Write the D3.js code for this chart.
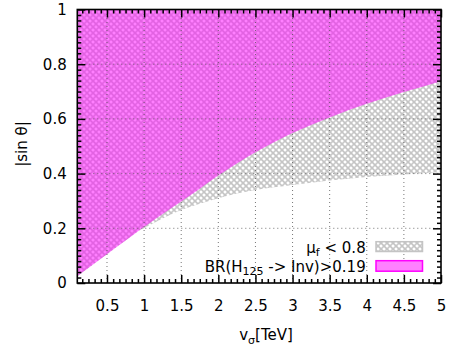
<!DOCTYPE html>
<html><head><meta charset="utf-8">
<script src="https://cdn.jsdelivr.net/npm/d3@7"></script>
<style>
body{margin:0;background:#fff}
svg text{font-family:"DejaVu Sans",sans-serif;fill:#000}
</style>
</head><body>
<svg id="c" width="457" height="347"></svg>
<script>
// ---- data ----
const upperX = [0.1, 0.25, 0.5, 0.75, 0.9, 1.0, 1.25, 1.5, 1.75, 2.0, 2.25, 2.5, 2.75, 3.0, 3.5, 4.0, 4.5, 5.0];
const upperY = [0.025, 0.055, 0.105, 0.155, 0.186, 0.205, 0.252, 0.298, 0.345, 0.393, 0.437, 0.478, 0.515, 0.548, 0.605, 0.655, 0.698, 0.738];
const lowerX = [0.9, 1.0, 1.25, 1.5, 1.75, 2.0, 2.25, 2.5, 3.0, 3.5, 4.0, 4.5, 5.0];
const lowerY = [0.186, 0.2, 0.236, 0.267, 0.29, 0.31, 0.327, 0.34, 0.358, 0.375, 0.388, 0.397, 0.405];
const xTickValues = [0.5, 1, 1.5, 2, 2.5, 3, 3.5, 4, 4.5, 5];
const yTickValues = [0, 0.2, 0.4, 0.6, 0.8, 1];
const xMinorPerMajor = 6;
const yMinorPerMajor = 10;

const svg = d3.select("#c");
const x = d3.scaleLinear().domain([0.1, 5]).range([77.3, 441]);
const y = d3.scaleLinear().domain([0, 1]).range([283, 9.5]);
const [x0, x1] = x.range(), [y0, y1] = y.range();

const defs = svg.append("defs");
defs.append("clipPath").attr("id", "clip").append("rect")
  .attr("x", x0).attr("y", y1).attr("width", x1 - x0).attr("height", y0 - y1);
const pat = defs.append("pattern").attr("id", "hatch")
  .attr("patternUnits", "userSpaceOnUse").attr("width", 4.243).attr("height", 4.243)
  .attr("patternTransform", "rotate(45)");
pat.append("rect").attr("width", 4.243).attr("height", 4.243).attr("fill", "#fff");
pat.append("path").attr("d", "M0,0H4.243M0,4.243H4.243M0,0V4.243M4.243,0V4.243")
  .attr("stroke", "#c4c4c4").attr("stroke-width", 1.5).attr("fill", "none");

const upper = upperX.map((v, i) => [v, upperY[i]]);
const lower = upperX.filter(v => v < lowerX[0]).map((v) => [v, upperY[upperX.indexOf(v)]])
  .concat(lowerX.map((v, i) => [v, lowerY[i]]));

const g = svg.append("g").attr("clip-path", "url(#clip)");
const area = d3.area().x(d => x(d[0])).y0(d => y(d[1])).y1(y(1)).curve(d3.curveMonotoneX);
g.append("path").datum(lower).attr("d", area).attr("fill", "url(#hatch)");
g.append("path").datum(upper).attr("d", area).attr("fill", "#ff00ff").attr("fill-opacity", 0.5);

// grid
const grid = svg.append("g").attr("stroke", "#555").attr("stroke-width", 1)
  .attr("stroke-dasharray", "1,3").attr("opacity", 0.8);
xTickValues.filter(v => v < 5).forEach(v => grid.append("line")
  .attr("x1", x(v)).attr("x2", x(v)).attr("y1", y0).attr("y2", y1));
yTickValues.filter(v => v > 0 && v < 1).forEach(v => grid.append("line")
  .attr("x1", x0).attr("x2", x1).attr("y1", y(v)).attr("y2", y(v)));

// minor ticks
function minors(majors, n, dom) {
  const step = majors[1] - majors[0];
  const out = [];
  const start = majors[0] - step;
  for (let k = 0; k <= majors.length; k++) {
    const b = start + k * step;
    for (let j = 1; j < n; j++) {
      const v = b + j * step / n;
      if (v > dom[0] + 1e-9 && v < dom[1] - 1e-9) out.push(v);
    }
  }
  return out;
}
const xMinor = minors(xTickValues, xMinorPerMajor, x.domain());
const yMinor = minors(yTickValues, yMinorPerMajor, y.domain());

function styleAxis(sel) {
  sel.select(".domain").remove();
  sel.selectAll("line").attr("stroke", "#000").attr("stroke-width", 1.5);
  sel.selectAll("text").attr("font-size", "15px").attr("font-family", "DejaVu Sans");
}
const MJ = 8, MN = 4;
svg.append("g").attr("transform", `translate(0,${y0})`)
  .call(d3.axisBottom(x).tickValues(xTickValues).tickSizeInner(-MJ).tickSizeOuter(0).tickPadding(17).tickFormat(d3.format("")))
  .call(styleAxis);
svg.append("g").attr("transform", `translate(0,${y0})`)
  .call(d3.axisBottom(x).tickValues(xMinor).tickSizeInner(-MN).tickSizeOuter(0).tickFormat(""))
  .call(styleAxis);
svg.append("g").attr("transform", `translate(0,${y1})`)
  .call(d3.axisTop(x).tickValues(xTickValues).tickSizeInner(-MJ).tickSizeOuter(0).tickFormat(""))
  .call(styleAxis);
svg.append("g").attr("transform", `translate(0,${y1})`)
  .call(d3.axisTop(x).tickValues(xMinor).tickSizeInner(-MN).tickSizeOuter(0).tickFormat(""))
  .call(styleAxis);
svg.append("g").attr("transform", `translate(${x0},0)`)
  .call(d3.axisLeft(y).tickValues(yTickValues).tickSizeInner(-MJ).tickSizeOuter(0).tickPadding(10.6).tickFormat(d3.format("")))
  .call(styleAxis);
svg.append("g").attr("transform", `translate(${x0},0)`)
  .call(d3.axisLeft(y).tickValues(yMinor).tickSizeInner(-MN).tickSizeOuter(0).tickFormat(""))
  .call(styleAxis);
svg.append("g").attr("transform", `translate(${x1},0)`)
  .call(d3.axisRight(y).tickValues(yTickValues).tickSizeInner(-MJ).tickSizeOuter(0).tickFormat(""))
  .call(styleAxis);
svg.append("g").attr("transform", `translate(${x1},0)`)
  .call(d3.axisRight(y).tickValues(yMinor).tickSizeInner(-MN).tickSizeOuter(0).tickFormat(""))
  .call(styleAxis);

// frame
svg.append("rect").attr("x", x0).attr("y", y1).attr("width", x1 - x0).attr("height", y0 - y1)
  .attr("fill", "none").attr("stroke", "#000").attr("stroke-width", 1.6);

// axis labels
svg.append("text").attr("transform", "translate(21.5,144) rotate(-90)")
  .attr("text-anchor", "middle").attr("dy", "0.35em").attr("font-size", "15px").text("|sin θ|");
const xl = svg.append("text").attr("x", 266).attr("y", 339.5).attr("text-anchor", "middle").attr("font-size", "15px");
xl.append("tspan").text("v");
xl.append("tspan").attr("font-size", "11px").attr("dy", 4).text("σ");
xl.append("tspan").attr("dy", -4).text("[TeV]");

// legend
const lx = 365.7;
const t1 = svg.append("text").attr("x", lx).attr("y", 252.7).attr("text-anchor", "end").attr("font-size", "15px");
t1.append("tspan").text("μ");
t1.append("tspan").attr("font-size", "11px").attr("dy", 3).text("f");
t1.append("tspan").attr("dy", -3).text(" < 0.8");
const t2 = svg.append("text").attr("x", lx).attr("y", 272).attr("text-anchor", "end").attr("font-size", "15px");
t2.append("tspan").text("BR(H");
t2.append("tspan").attr("font-size", "11px").attr("dy", 3).text("125");
t2.append("tspan").attr("dy", -3).text(" -> Inv)>0.19");
svg.append("rect").attr("x", 376).attr("y", 241.7).attr("width", 46.5).attr("height", 9.8)
  .attr("fill", "url(#hatch)").attr("stroke", "#c4c4c4").attr("stroke-width", 1.5);
svg.append("rect").attr("x", 376).attr("y", 260.7).attr("width", 46.5).attr("height", 10.5)
  .attr("fill", "#ff80ff").attr("stroke", "#ff00ff").attr("stroke-width", 1.5);
</script>
</body></html>
